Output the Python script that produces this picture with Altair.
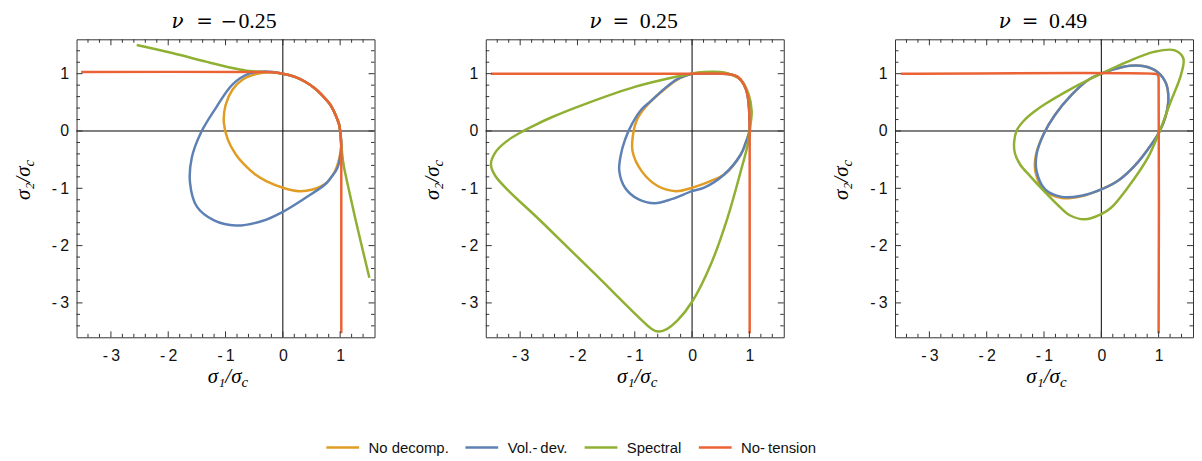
import altair as alt
import pandas as pd

# ---------------- data ----------------
SERIES = ["No decomp.", "Vol.-\u2009dev.", "Spectral", "No-\u2009tension"]
COLORS = ["#E19C24", "#5E81B5", "#8FB032", "#EB6235"]
NU_SIGN = ["\u2212", "", ""]
NU_VALUES = ["0.25", "0.25", "0.49"]

MAJOR_TICKS = [-3, -2, -1, 0, 1]
MINOR_TICKS = [round(-3.4 + 0.2 * k, 1) for k in range(25) if (k + 3) % 5 != 0]

# panel 1 : nu = -0.25
P1_ORANGE_X = [0.0, 0.2, 0.39, 0.55, 0.68, 0.82, 0.92, 0.98, 1.0, 1.02, 0.98, 0.9, 0.74, 0.52, 0.28, 0.0, -0.28, -0.48, -0.68, -0.82, -0.96, -1.03, -1.0, -0.88, -0.7, -0.45, -0.2, 0.0]
P1_ORANGE_Y = [1.0, 0.95, 0.86, 0.75, 0.63, 0.47, 0.28, 0.12, 0.0, -0.25, -0.5, -0.72, -0.92, -1.02, -1.05, -0.99, -0.88, -0.76, -0.58, -0.41, -0.15, 0.15, 0.45, 0.72, 0.9, 1.0, 1.03, 1.0]
P1_BLUE_X = [0.0, 0.2, 0.39, 0.55, 0.68, 0.82, 0.92, 0.98, 1.0, 1.02, 1.0, 0.95, 0.85, 0.74, 0.39, 0.0, -0.36, -0.82, -1.2, -1.5, -1.62, -1.59, -1.43, -1.17, -0.88, -0.59, -0.3, 0.0]
P1_BLUE_Y = [1.0, 0.95, 0.86, 0.75, 0.63, 0.47, 0.28, 0.12, 0.0, -0.25, -0.45, -0.65, -0.8, -0.93, -1.17, -1.41, -1.57, -1.65, -1.56, -1.32, -0.9, -0.47, -0.03, 0.4, 0.81, 1.0, 1.04, 1.0]
P1_GREEN_X = [-2.55, -1.93, -1.34, -0.88, -0.59, -0.3, 0.0, 0.2, 0.39, 0.55, 0.68, 0.82, 0.92, 0.98, 1.0, 1.02, 1.06, 1.12, 1.26, 1.51]
P1_GREEN_Y = [1.5, 1.36, 1.21, 1.1, 1.045, 1.03, 1.0, 0.95, 0.86, 0.75, 0.63, 0.47, 0.28, 0.12, 0.0, -0.25, -0.59, -0.88, -1.51, -2.56]
P1_RED_X = [-3.52, -0.5, -0.2, 0.0, 0.2, 0.39, 0.55, 0.68, 0.82, 0.92, 0.98, 1.0, 1.02, 1.02, 1.02]
P1_RED_Y = [1.03, 1.03, 1.025, 1.0, 0.95, 0.86, 0.75, 0.63, 0.47, 0.28, 0.12, 0.0, -0.3, -0.6, -3.53]

# panel 2 : nu = 0.25
P2_ORANGE_X = [0.0, 0.5, 0.68, 0.8, 0.9, 0.96, 0.99, 1.0, 1.0, 0.93, 0.85, 0.56, 0.33, 0.0, -0.28, -0.6, -0.88, -1.04, -1.02, -0.96, -0.86, -0.73, -0.48, -0.25, 0.0]
P2_ORANGE_Y = [1.0, 1.0, 0.985, 0.94, 0.82, 0.66, 0.45, 0.25, 0.0, -0.22, -0.41, -0.76, -0.87, -0.99, -1.05, -0.96, -0.7, -0.35, 0.0, 0.2, 0.36, 0.51, 0.73, 0.9, 1.0]
P2_BLUE_X = [0.0, 0.5, 0.68, 0.8, 0.9, 0.96, 0.99, 1.0, 1.0, 0.93, 0.85, 0.56, 0.21, 0.0, -0.36, -0.65, -0.94, -1.17, -1.27, -1.25, -1.17, -1.05, -0.88, -0.71, -0.48, -0.25, 0.0]
P2_BLUE_Y = [1.0, 1.0, 0.985, 0.94, 0.82, 0.66, 0.45, 0.25, 0.0, -0.22, -0.41, -0.76, -0.99, -1.05, -1.19, -1.26, -1.19, -0.99, -0.7, -0.45, -0.15, 0.12, 0.38, 0.53, 0.74, 0.91, 1.0]
P2_GREEN_X = [0.0, -0.36, -1.0, -1.87, -2.45, -2.75, -3.0, -3.25, -3.43, -3.51, -3.43, -2.6, -1.7, -0.88, -0.71, -0.6, -0.45, -0.25, 0.0, 0.33, 0.62, 0.85, 0.97, 1.02, 1.04, 0.99, 0.85, 0.56, 0.33, 0.1, 0.0]
P2_GREEN_Y = [1.0, 0.93, 0.77, 0.47, 0.24, 0.1, -0.03, -0.19, -0.37, -0.58, -0.79, -1.61, -2.49, -3.3, -3.45, -3.5, -3.46, -3.3, -2.98, -2.32, -1.51, -0.7, -0.24, 0.11, 0.34, 0.63, 0.89, 1.02, 1.035, 1.02, 1.0]
P2_RED_X = [-3.51, 0.0, 0.5, 0.68, 0.8, 0.9, 0.96, 0.99, 1.0, 1.005, 1.005, 1.005]
P2_RED_Y = [1.0, 1.0, 1.0, 0.985, 0.94, 0.82, 0.66, 0.45, 0.25, 0.0, -0.5, -3.53]

# panel 3 : nu = 0.49
P3_ORANGE_X = [0.0, 0.23, 0.5, 0.75, 0.98, 1.13, 1.17, 1.12, 1.02, 0.87, 0.58, 0.29, 0.0, -0.35, -0.69, -0.99, -1.15, -1.14, -1.01, -0.81, -0.52, -0.23, 0.0]
P3_ORANGE_Y = [1.0, 1.08, 1.14, 1.13, 1.03, 0.83, 0.55, 0.25, 0.0, -0.24, -0.61, -0.87, -1.02, -1.14, -1.17, -1.04, -0.71, -0.41, -0.06, 0.28, 0.63, 0.89, 1.0]
P3_BLUE_X = [0.0, 0.23, 0.5, 0.75, 0.98, 1.13, 1.17, 1.12, 1.02, 0.87, 0.58, 0.29, 0.0, -0.35, -0.69, -0.98, -1.13, -1.13, -1.01, -0.81, -0.52, -0.23, 0.0]
P3_BLUE_Y = [1.0, 1.08, 1.14, 1.13, 1.03, 0.83, 0.55, 0.25, 0.0, -0.24, -0.61, -0.87, -1.02, -1.13, -1.15, -1.02, -0.7, -0.41, -0.06, 0.28, 0.63, 0.89, 1.0]
P3_GREEN_X = [0.0, 0.46, 0.92, 1.27, 1.43, 1.39, 1.21, 1.02, 0.81, 0.46, 0.17, 0.0, -0.29, -0.55, -0.75, -1.0, -1.25, -1.42, -1.51, -1.52, -1.47, -1.36, -1.18, -0.98, -0.52, -0.23, 0.0]
P3_GREEN_Y = [1.0, 1.21, 1.38, 1.41, 1.27, 0.98, 0.51, 0.0, -0.47, -0.99, -1.34, -1.45, -1.54, -1.47, -1.3, -1.05, -0.78, -0.58, -0.38, -0.18, 0.02, 0.17, 0.33, 0.47, 0.74, 0.89, 1.0]
P3_RED_X = [-3.5, 0.9, 0.97, 0.995, 1.0, 1.0]
P3_RED_Y = [1.0, 1.0, 0.99, 0.96, 0.9, -3.53]

PANELS = [
    [(P1_ORANGE_X, P1_ORANGE_Y), (P1_BLUE_X, P1_BLUE_Y), (P1_GREEN_X, P1_GREEN_Y), (P1_RED_X, P1_RED_Y)],
    [(P2_ORANGE_X, P2_ORANGE_Y), (P2_BLUE_X, P2_BLUE_Y), (P2_GREEN_X, P2_GREEN_Y), (P2_RED_X, P2_RED_Y)],
    [(P3_ORANGE_X, P3_ORANGE_Y), (P3_BLUE_X, P3_BLUE_Y), (P3_GREEN_X, P3_GREEN_Y), (P3_RED_X, P3_RED_Y)],
]

# ---------------- chart ----------------
W = H = 300
DOMAIN = [-3.6, 1.6]
SERIF = "Liberation Serif"
MATH = "DejaVu Serif"
SANS = "Liberation Sans"
FRAME = "#333333"

xscale = alt.Scale(domain=DOMAIN, nice=False, zero=False)
yscale = alt.Scale(domain=DOMAIN, nice=False, zero=False)
cscale = alt.Scale(domain=SERIES, range=COLORS)

LABEL_EXPR = "datum.value < 0 ? '-\u2009' + format(-datum.value, 'd') : format(datum.value, 'd')"

xaxis = alt.Axis(values=MAJOR_TICKS, ticks=False, domain=False, grid=False, title=None,
                 labelExpr=LABEL_EXPR, labelFont=SANS, labelFontSize=16, labelColor="#111",
                 labelPadding=10)
yaxis = alt.Axis(values=MAJOR_TICKS, ticks=False, domain=False, grid=False, title=None,
                 labelExpr=LABEL_EXPR, labelFont=SANS, labelFontSize=16, labelColor="#111",
                 labelPadding=8)

one = pd.DataFrame({"a": [0]})


def tick_layers():
    layers = []
    for vals, L in ((MAJOR_TICKS, 6), (MINOR_TICKS, 3.5)):
        dx = pd.DataFrame({"x": vals})
        dy = pd.DataFrame({"y": vals})
        base_x = alt.Chart(dx).mark_rule(color=FRAME, strokeWidth=1)
        base_y = alt.Chart(dy).mark_rule(color=FRAME, strokeWidth=1)
        layers.append(base_x.encode(x=alt.X("x:Q", scale=xscale, axis=xaxis), y=alt.value(H), y2=alt.value(H - L)))
        layers.append(base_x.encode(x=alt.X("x:Q", scale=xscale, axis=xaxis), y=alt.value(0), y2=alt.value(L)))
        layers.append(base_y.encode(y=alt.Y("y:Q", scale=yscale, axis=yaxis), x=alt.value(0), x2=alt.value(L)))
        layers.append(base_y.encode(y=alt.Y("y:Q", scale=yscale, axis=yaxis), x=alt.value(W), x2=alt.value(W - L)))
    return layers


def text(t, x, y, size=21, style="normal", align="left", angle=0, dy=0, font=SERIF):
    kw = dict(text=t, font=font, fontSize=size, fontStyle=style, align=align,
              baseline="alphabetic", color="black", dy=dy)
    if angle:
        kw["angle"] = angle
    return alt.Chart(one).mark_text(**kw).encode(x=alt.value(x), y=alt.value(y))


def panel(idx):
    curves = PANELS[idx]
    layers = []
    # zero axis lines
    layers.append(alt.Chart(one).mark_rule(color="black", strokeWidth=1).encode(
        x=alt.X(datum=0, type="quantitative", scale=xscale, axis=xaxis), y=alt.value(0), y2=alt.value(H)))
    layers.append(alt.Chart(one).mark_rule(color="black", strokeWidth=1).encode(
        y=alt.Y(datum=0, type="quantitative", scale=yscale, axis=yaxis), x=alt.value(0), x2=alt.value(W)))
    for s, (xs, ys) in enumerate(curves):
        df = pd.DataFrame({"x": xs, "y": ys, "i": list(range(len(xs))), "series": SERIES[s]})
        layers.append(alt.Chart(df).mark_line(strokeWidth=2.5, interpolate="catmull-rom", clip=True).encode(
            x=alt.X("x:Q", scale=xscale, axis=xaxis),
            y=alt.Y("y:Q", scale=yscale, axis=yaxis),
            order=alt.Order("i:Q"),
            color=alt.Color("series:N", scale=cscale, legend=alt.Legend(
                title=None, orient="none", direction="horizontal", legendX=250, legendY=393,
                symbolType="stroke", symbolSize=1089, symbolStrokeWidth=2.5,
                labelFont=SANS, labelFontSize=15, labelColor="#111", labelOffset=8,
                columnPadding=11, padding=0)),
        ))
    layers += tick_layers()
    # panel title  nu = value
    if idx == 0:
        nx, ex, mx, vx = 95.5, 129, 145, 163
    else:
        nx, ex, mx, vx = 104.5, 136, 155, 155
    layers.append(text("\u03bd", nx, -11, style="italic", font=MATH, size=20))
    layers.append(text("=", ex, -11, align="center", font=MATH, size=20))
    if NU_SIGN[idx]:
        layers.append(text(NU_SIGN[idx], mx, -11, font=MATH, size=20))
    layers.append(text(NU_VALUES[idx], vx, -11, size=22))
    # axis titles  sigma1/sigma_c , sigma2/sigma_c
    layers.append(text("\u03c3\u2081/\u03c3", 166, 346, size=21, style="italic", align="right"))
    layers.append(text("c", 166, 346, size=15, style="italic", align="left", dy=4))
    layers.append(text("\u03c3\u2082/\u03c3", -47, 128, size=21, style="italic", align="right", angle=270))
    layers.append(text("c", -47, 128, size=15, style="italic", align="left", angle=270, dy=4))
    return alt.layer(*layers).properties(width=W, height=H)


chart = alt.hconcat(panel(0), panel(1), panel(2), spacing=46).resolve_scale(color="shared").properties(
    padding={"left": 4, "top": 0, "right": 0, "bottom": 0}
).configure_view(stroke=FRAME, strokeWidth=1).configure_axis(labelFont=SANS)

chart.save("out.html", embed_options={"renderer": "svg", "actions": False})
